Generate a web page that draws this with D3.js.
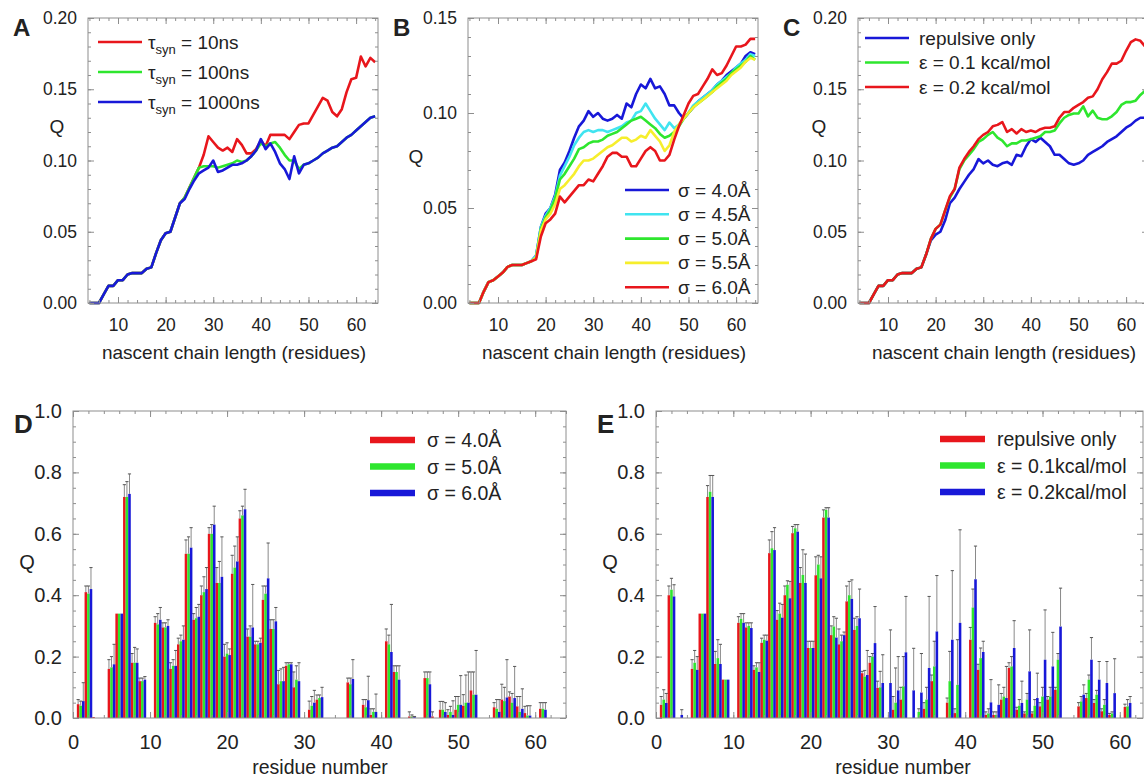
<!DOCTYPE html>
<html>
<head>
<meta charset="utf-8">
<script src="https://cdn.jsdelivr.net/npm/d3@7"></script>
<style>
body { margin: 0; background: #fff; }
text { font-family: "Liberation Sans", Arial, sans-serif; fill: #222; }
</style>
</head>
<body>
<script>
// ---- data ----
var chainLength = [4,5,6,7,8,9,10,11,12,13,14,15,16,17,18,19,20,21,22,23,24,25,26,27,28,29,30,31,32,33,34,
  35,36,37,38,39,40,41,42,43,44,45,46,47,48,49,50,51,52,53,54,55,56,57,58,59,60,61,62,63,64];

// panel A: tau_syn
var aTau10 = [0,0,0,0.006,0.012,0.012,0.016,0.016,0.02,0.021,0.021,0.021,0.024,0.025,
  0.035,0.044,0.049,0.05,0.06,0.07,0.074,0.081,0.088,0.095,0.104,0.117,
  0.113,0.109,0.107,0.109,0.106,0.115,0.111,0.105,0.105,0.108,0.114,0.11,
  0.118,0.118,0.118,0.118,0.115,0.12,0.125,0.126,0.126,0.132,0.138,0.144,
  0.142,0.134,0.131,0.136,0.148,0.157,0.158,0.173,0.166,0.172,0.169];
var aTau100 = [0,0,0,0.006,0.012,0.012,0.016,0.016,0.02,0.021,0.021,0.021,0.024,0.025,
  0.035,0.044,0.049,0.05,0.06,0.07,0.074,0.081,0.088,0.095,0.096,0.096,
  0.096,0.095,0.096,0.097,0.098,0.1,0.099,0.1,0.103,0.107,0.112,0.11,
  0.112,0.113,0.109,0.104,0.1,0.1,0.094,0.097,0.098,0.1,0.102,0.105,
  0.107,0.109,0.11,0.113,0.116,0.118,0.121,0.124,0.127,0.13,0.131];
var aTau1000 = [0,0,0,0.006,0.012,0.012,0.016,0.016,0.02,0.021,0.021,0.021,0.024,0.025,
  0.035,0.044,0.049,0.05,0.06,0.07,0.073,0.08,0.086,0.091,0.093,0.095,
  0.1,0.092,0.093,0.095,0.097,0.097,0.098,0.1,0.103,0.107,0.115,0.108,
  0.112,0.106,0.098,0.094,0.087,0.103,0.091,0.097,0.098,0.1,0.102,0.105,
  0.107,0.109,0.11,0.113,0.116,0.118,0.121,0.124,0.127,0.13,0.131];

// panel B: sigma
var bSig40 = [0,0,0,0.006,0.011,0.012,0.014,0.016,0.019,0.02,0.02,0.02,0.021,0.022,
  0.025,0.04,0.047,0.05,0.057,0.07,0.074,0.08,0.087,0.093,0.096,0.101,
  0.098,0.1,0.097,0.096,0.097,0.099,0.097,0.105,0.103,0.11,0.115,0.113,
  0.118,0.113,0.114,0.11,0.104,0.104,0.1,0.097,0.1,0.103,0.106,0.108,
  0.11,0.112,0.115,0.117,0.12,0.122,0.124,0.126,0.13,0.132,0.131];
var bSig45 = [0,0,0,0.006,0.011,0.012,0.014,0.016,0.019,0.02,0.02,0.02,0.021,0.022,
  0.025,0.04,0.046,0.05,0.056,0.067,0.072,0.077,0.083,0.087,0.09,0.091,
  0.09,0.091,0.091,0.09,0.091,0.092,0.093,0.095,0.096,0.1,0.101,0.105,
  0.101,0.097,0.094,0.091,0.095,0.092,0.094,0.097,0.1,0.104,0.106,0.108,
  0.11,0.112,0.115,0.117,0.119,0.121,0.124,0.126,0.128,0.131,0.13];
var bSig50 = [0,0,0,0.006,0.011,0.012,0.014,0.016,0.019,0.02,0.02,0.02,0.021,0.022,
  0.024,0.039,0.045,0.049,0.055,0.065,0.068,0.072,0.076,0.081,0.082,0.084,
  0.085,0.085,0.086,0.088,0.089,0.09,0.092,0.094,0.096,0.097,0.098,0.096,
  0.094,0.092,0.089,0.087,0.088,0.09,0.093,0.097,0.1,0.103,0.105,0.107,
  0.109,0.111,0.114,0.116,0.118,0.121,0.123,0.125,0.127,0.13,0.128];
var bSig55 = [0,0,0,0.006,0.011,0.012,0.014,0.016,0.019,0.02,0.02,0.02,0.021,0.022,
  0.024,0.038,0.044,0.047,0.052,0.06,0.062,0.065,0.068,0.072,0.075,0.075,
  0.076,0.078,0.08,0.082,0.083,0.085,0.087,0.087,0.085,0.086,0.088,0.087,
  0.091,0.088,0.085,0.08,0.083,0.09,0.094,0.097,0.1,0.103,0.105,0.107,
  0.109,0.111,0.113,0.115,0.117,0.12,0.122,0.124,0.127,0.129,0.128];
var bSig60 = [0,0,0,0.006,0.011,0.012,0.014,0.016,0.019,0.02,0.02,0.02,0.021,0.022,
  0.023,0.035,0.042,0.044,0.047,0.056,0.053,0.056,0.059,0.062,0.062,0.065,
  0.064,0.068,0.072,0.077,0.079,0.079,0.077,0.077,0.072,0.072,0.076,0.08,
  0.082,0.08,0.075,0.075,0.078,0.086,0.093,0.099,0.105,0.109,0.11,0.114,
  0.118,0.123,0.12,0.121,0.125,0.13,0.135,0.135,0.136,0.139,0.139];

// panel C: epsilon
var cRep = [0,0,0,0.006,0.012,0.012,0.016,0.016,0.02,0.021,0.021,0.021,0.024,0.025,
  0.034,0.044,0.048,0.05,0.058,0.07,0.074,0.08,0.085,0.09,0.094,0.101,
  0.098,0.1,0.097,0.096,0.098,0.099,0.097,0.104,0.103,0.11,0.115,0.113,
  0.116,0.113,0.11,0.104,0.104,0.101,0.098,0.097,0.098,0.1,0.104,0.106,
  0.108,0.11,0.113,0.115,0.117,0.12,0.123,0.125,0.128,0.13,0.13];
var cEps01 = [0,0,0,0.006,0.012,0.012,0.016,0.016,0.02,0.021,0.021,0.021,0.024,0.025,
  0.034,0.045,0.052,0.055,0.065,0.074,0.08,0.094,0.1,0.104,0.108,0.113,
  0.115,0.118,0.12,0.116,0.114,0.11,0.112,0.112,0.114,0.114,0.115,0.116,
  0.117,0.12,0.12,0.121,0.126,0.13,0.132,0.133,0.133,0.138,0.131,0.135,
  0.13,0.129,0.129,0.131,0.134,0.139,0.141,0.141,0.142,0.146,0.149];
var cEps02 = [0,0,0,0.006,0.012,0.012,0.016,0.016,0.02,0.021,0.021,0.021,0.024,0.025,
  0.034,0.045,0.052,0.055,0.065,0.075,0.08,0.095,0.101,0.106,0.11,0.115,
  0.118,0.12,0.124,0.125,0.127,0.12,0.122,0.119,0.122,0.12,0.121,0.12,
  0.122,0.123,0.123,0.124,0.13,0.134,0.134,0.137,0.139,0.141,0.144,0.145,
  0.15,0.157,0.162,0.168,0.168,0.17,0.177,0.183,0.185,0.184,0.18];

// panels D, E: per-residue Q with upper error bar ends
var residues = [1,2,3,4,5,6,7,8,9,10,11,12,13,14,15,16,17,18,19,20,21,22,23,24,25,26,27,28,29,30,31,
  32,33,34,35,36,37,38,39,40,41,42,43,44,45,46,47,48,49,50,51,52,53,54,55,56,57,58,59,60,61,62];

var dSig40 = [0.045,0.41,0.003,0,0.16,0.34,0.72,0.18,0.12,0, 0.31,0.295,0.16,0.24,0.535,0.32,0.4,0.6,0.44,0.2,
  0.47,0.65,0.265,0.24,0.385,0.29,0.11,0.17,0.1,0, 0.027,0.06,0,0,0,0.116,0,0.043,0.01,0,
  0.25,0.15,0,0.005,0,0.13,0.005,0.027,0.01,0.027, 0.04,0.09,0,0,0.035,0.06,0.07,0.038,0.016,0, 0.03,0];
var dSig50 = [0.04,0.405,0,0,0.165,0.34,0.72,0.18,0.12,0, 0.305,0.295,0.17,0.25,0.535,0.325,0.41,0.6,0.44,0.21,
  0.49,0.66,0.265,0.24,0.405,0.29,0.12,0.175,0.125,0, 0.04,0.065,0,0,0,0.11,0,0.035,0.02,0,
  0.24,0.15,0,0.005,0,0.13,0,0.027,0.02,0.043, 0.05,0.076,0,0,0.03,0.055,0.05,0.02,0.008,0, 0.03,0];
var dSig60 = [0.055,0.42,0,0,0.175,0.34,0.73,0.18,0.125,0, 0.32,0.3,0.17,0.255,0.555,0.33,0.42,0.63,0.46,0.205,
  0.51,0.68,0.295,0.245,0.455,0.315,0.12,0.175,0.12,0, 0.05,0.068,0,0,0,0.127,0,0.058,0.02,0,
  0.215,0.125,0,0.003,0,0.11,0,0.02,0.01,0.043, 0.05,0.076,0,0,0.02,0.067,0.065,0.03,0.008,0, 0.027,0];
var dSig40Hi = [0.06,0.43,0,0,0.19,0,0.76,0.21,0.13,0, 0.33,0.31,0.18,0.26,0.58,0.34,0.43,0.62,0.49,0.24,
  0.53,0.675,0.29,0.25,0.43,0.32,0.155,0.18,0.15,0, 0.055,0.075,0,0,0,0.13,0,0.06,0.03,0,
  0.29,0.17,0,0.02,0,0.15,0.02,0.054,0.027,0.07, 0.076,0.15,0,0,0.05,0.11,0.085,0.07,0.038,0, 0.05,0];
var dSig50Hi = [0.055,0.43,0,0,0.2,0,0.77,0.23,0.13,0, 0.34,0.31,0.19,0.27,0.59,0.36,0.46,0.63,0.51,0.245,
  0.56,0.69,0.3,0.25,0.43,0.32,0.16,0.18,0.17,0, 0.07,0.075,0,0,0,0.13,0,0.06,0.03,0,
  0.27,0.17,0,0.01,0,0.15,0,0.054,0.038,0.07, 0.14,0.15,0,0,0.06,0.1,0.08,0.07,0.04,0, 0.05,0];
var dSig60Hi = [0.115,0.49,0,0,0.24,0,0.795,0.225,0.135,0, 0.36,0.32,0.22,0.3,0.62,0.37,0.49,0.69,0.59,0.225,
  0.59,0.745,0.435,0.26,0.57,0.36,0.165,0.18,0.18,0, 0.09,0.1,0,0,0,0.19,0,0.136,0.078,0,
  0.37,0.17,0,0.005,0,0.15,0,0.05,0.056,0.138, 0.15,0.22,0,0,0.06,0.19,0.168,0.095,0.04,0, 0.05,0];

var eRep = [0.043,0.4,0,0,0.16,0.34,0.72,0.176,0.125,0, 0.31,0.295,0.157,0.245,0.537,0.32,0.4,0.602,0.44,0.228,
  0.465,0.653,0.27,0.24,0.38,0.287,0.146,0.18,0.098,0, 0.027,0.06,0,0,0.03,0.12,0,0.05,0.016,0,
  0.255,0.157,0.01,0.01,0.06,0.163,0.027,0.015,0.015,0.038, 0.06,0.092,0,0,0.038,0.065,0.049,0.022,0.01,0, 0.036,0];
var eEps01 = [0.06,0.418,0,0,0.18,0.34,0.737,0.195,0.125,0, 0.323,0.3,0.165,0.255,0.553,0.34,0.434,0.618,0.466,0.228,
  0.5,0.678,0.298,0.25,0.4,0.3,0.135,0.2,0.1,0, 0.05,0.103,0,0.02,0.06,0.168,0,0.12,0.108,0,
  0.36,0.195,0.015,0.01,0.07,0.168,0.04,0.06,0.04,0.07, 0.07,0.19,0,0,0.054,0.125,0.076,0.043,0.015,0, 0.038,0];
var eEps02 = [0.049,0.396,0.01,0,0.157,0.34,0.72,0.176,0.125,0, 0.31,0.293,0.15,0.252,0.547,0.327,0.39,0.607,0.44,0.228,
  0.455,0.653,0.262,0.27,0.388,0.325,0.14,0.244,0.114,0.114, 0.09,0.214,0.09,0.083,0.163,0.282,0,0.255,0.31,0,
  0.452,0.215,0.051,0.043,0.065,0.228,0.049,0.152,0.065,0.19, 0.168,0.298,0,0,0.076,0.19,0.125,0.114,0.081,0, 0.049,0];
var eRepHi = [0.07,0.43,0,0,0.19,0,0.757,0.217,0,0, 0.33,0.31,0.17,0.26,0.58,0.35,0.43,0.624,0.49,0.25,
  0.525,0.678,0.3,0.29,0.43,0.325,0.152,0.2,0.12,0, 0.07,0.1,0,0,0.05,0.14,0,0.065,0.03,0,
  0.295,0.175,0.02,0.02,0.08,0.18,0.035,0.02,0.02,0.05, 0.07,0.1,0,0,0.05,0.08,0.06,0.03,0.015,0, 0.045,0];
var eEps01Hi = [0.092,0.455,0,0,0.22,0,0.79,0.255,0,0, 0.34,0.31,0.18,0.27,0.607,0.374,0.447,0.63,0.548,0.25,
  0.53,0.685,0.33,0.27,0.445,0.33,0.155,0.21,0.152,0, 0.163,0.2,0,0.03,0.1,0.25,0,0.217,0.255,0,
  0.42,0.228,0.03,0.02,0.1,0.2,0.06,0.08,0.06,0.1, 0.1,0.21,0,0,0.07,0.14,0.09,0.06,0.02,0, 0.06,0];
var eEps02Hi = [0.08,0.434,0.027,0,0.2,0,0.79,0.24,0,0, 0.34,0.31,0.18,0.27,0.62,0.37,0.445,0.63,0.534,0.25,
  0.525,0.685,0.325,0.28,0.45,0.42,0.22,0.363,0.206,0.287, 0.2,0.396,0.227,0.21,0.396,0.464,0,0.48,0.613,0,
  0.56,0.25,0.125,0.108,0.168,0.317,0.12,0.287,0.146,0.352, 0.279,0.423,0,0,0.108,0.262,0.184,0.184,0.193,0, 0.07,0];

var lenTicks = [10, 20, 30, 40, 50, 60];
var resTicks = [0, 10, 20, 30, 40, 50, 60];

var RED = '#e8161c', GREEN = '#2ee62e', BLUE = '#1818d8', CYAN = '#40e4f0', YELLOW = '#f6ee2c';
var FRAME = '#8e8e8e';

var svg = d3.select('body').append('svg')
  .attr('width', 1144)
  .attr('height', 779);

// draws box + inward ticks on four sides
function drawFrame(g, x, y, o) {
  var xr = x.range(), yr = y.range();
  function ticks(axis, tr, vals, size, fmt, pad, fs) {
    var a = g.append('g').attr('transform', tr)
      .call(axis.tickValues(vals).tickSize(-size).tickPadding(pad).tickFormat(fmt));
    a.select('.domain').remove();
    a.selectAll('line').attr('stroke', FRAME);
    a.selectAll('text').attr('font-size', fs).attr('fill', '#222');
  }
  var none = function() { return ''; };
  ticks(d3.axisBottom(x), 'translate(0,' + yr[0] + ')', o.xMinor, 3, none, 0, 0);
  ticks(d3.axisTop(x), 'translate(0,' + yr[1] + ')', o.xMinor, 3, none, 0, 0);
  ticks(d3.axisLeft(y), 'translate(' + xr[0] + ',0)', o.yMinor, 3, none, 0, 0);
  ticks(d3.axisRight(y), 'translate(' + xr[1] + ',0)', o.yMinor, 3, none, 0, 0);
  ticks(d3.axisBottom(x), 'translate(0,' + yr[0] + ')', o.xMajor, 6, d3.format('d'), o.xPad, o.fs);
  ticks(d3.axisTop(x), 'translate(0,' + yr[1] + ')', o.xMajor, 6, none, 0, 0);
  ticks(d3.axisLeft(y), 'translate(' + xr[0] + ',0)', o.yMajor, 6, d3.format(o.yFmt), 11, o.fs);
  ticks(d3.axisRight(y), 'translate(' + xr[1] + ',0)', o.yMajor, 6, none, 0, 0);
  g.append('rect')
    .attr('x', xr[0]).attr('y', yr[1])
    .attr('width', xr[1] - xr[0]).attr('height', yr[0] - yr[1])
    .attr('fill', 'none').attr('stroke', FRAME).attr('stroke-width', 1);
}

function label(txt, x, y, size, opts) {
  var t = svg.append('text').attr('x', x).attr('y', y).attr('font-size', size).text(txt);
  if (opts && opts.anchor) t.attr('text-anchor', opts.anchor);
  if (opts && opts.bold) t.attr('font-weight', 'bold').attr('fill', '#000');
  return t;
}

// ---- line panels A, B, C ----
function linePanel(o) {
  var g = svg.append('g');
  var x = d3.scaleLinear().domain([3.7, 64.6]).range([o.left, o.left + 290]);
  var y = d3.scaleLinear().domain([0, o.yMax]).range([303, 18]);
  var line = d3.line()
    .x(function(d, i) { return x(chainLength[i]); })
    .y(function(d) { return y(d); });
  g.selectAll('path.series')
    .data(o.series)
    .enter().append('path')
      .attr('class', 'series')
      .attr('d', function(s) { return line(s.values); })
      .attr('fill', 'none')
      .attr('stroke', function(s) { return s.color; })
      .attr('stroke-width', 2.6)
      .attr('stroke-linejoin', 'round');
  drawFrame(g, x, y, {
    xMajor: lenTicks, xMinor: d3.range(4, 65, 2),
    yMajor: d3.range(0, o.yMax + 1e-9, 0.05), yMinor: d3.range(0, o.yMax + 1e-9, 0.01),
    yFmt: '.2f', xPad: 16, fs: 17.5
  });
  label('nascent chain length (residues)', o.left + 146, 359, 19, { anchor: 'middle' });
  label('Q', o.qx, o.qy, 19, { anchor: 'middle' });
  label(o.letter, o.left - 75, 36, 24, { bold: true });

  var lg = g.selectAll('g.leg')
    .data(o.series)
    .enter().append('g')
      .attr('class', 'leg')
      .attr('transform', function(s, i) { return 'translate(' + o.legX + ',' + (o.legY + i * o.legDy) + ')'; });
  lg.append('line')
    .attr('x1', 0).attr('x2', 44)
    .attr('stroke', function(s) { return s.color; })
    .attr('stroke-width', 2.6);
  lg.append('text')
    .attr('x', o.legText).attr('y', 6.5)
    .attr('font-size', 19)
    .each(function(s) {
      var t = d3.select(this);
      if (s.sub) {
        t.append('tspan').text(s.name);
        t.append('tspan').attr('dy', 5).attr('font-size', 13).text(s.sub);
        t.append('tspan').attr('dy', -5).text(s.rest);
      } else {
        t.text(s.name);
      }
    });
}

linePanel({
  left: 88, yMax: 0.2, letter: 'A', qx: 57, qy: 133,
  legX: 98, legY: 42, legDy: 30, legText: 50,
  series: [
    { values: aTau10, color: RED, name: '\u03c4', sub: 'syn', rest: ' = 10ns' },
    { values: aTau100, color: GREEN, name: '\u03c4', sub: 'syn', rest: ' = 100ns' },
    { values: aTau1000, color: BLUE, name: '\u03c4', sub: 'syn', rest: ' = 1000ns' }
  ]
});

linePanel({
  left: 468, yMax: 0.15, letter: 'B', qx: 416, qy: 163,
  legX: 625, legY: 190, legDy: 24.3, legText: 53,
  series: [
    { values: bSig40, color: BLUE, name: '\u03c3 = 4.0\u00c5' },
    { values: bSig45, color: CYAN, name: '\u03c3 = 4.5\u00c5' },
    { values: bSig50, color: GREEN, name: '\u03c3 = 5.0\u00c5' },
    { values: bSig55, color: YELLOW, name: '\u03c3 = 5.5\u00c5' },
    { values: bSig60, color: RED, name: '\u03c3 = 6.0\u00c5' }
  ]
});

linePanel({
  left: 858, yMax: 0.2, letter: 'C', qx: 819, qy: 133,
  legX: 865, legY: 38, legDy: 24.5, legText: 54,
  series: [
    { values: cRep, color: BLUE, name: 'repulsive only' },
    { values: cEps01, color: GREEN, name: '\u03b5 = 0.1 kcal/mol' },
    { values: cEps02, color: RED, name: '\u03b5 = 0.2 kcal/mol' }
  ]
});

// ---- bar panels D, E ----
function barPanel(o) {
  var g = svg.append('g');
  var x = d3.scaleLinear().domain([0, o.xMax]).range([o.left, o.right]);
  var y = d3.scaleLinear().domain([0, 1]).range([718, 411]);
  var sub = d3.scaleBand().domain([0, 1, 2]).range([0, x(1) - x(0)]);

  o.series.forEach(function(s, k) {
    var rows = residues.map(function(r, i) { return { r: r, v: s.values[i], hi: s.hi[i] }; });
    g.append('g').selectAll('rect')
      .data(rows.filter(function(d) { return d.v > 0; }))
      .enter().append('rect')
        .attr('x', function(d) { return x(d.r - 0.5) + sub(k); })
        .attr('width', sub.bandwidth())
        .attr('y', function(d) { return y(d.v); })
        .attr('height', function(d) { return y(0) - y(d.v); })
        .attr('fill', s.color);
    var eb = g.append('g').selectAll('g')
      .data(rows.filter(function(d) { return d.hi > d.v; }))
      .enter().append('g');
    eb.append('line')
      .attr('x1', function(d) { return x(d.r - 0.5) + sub(k) + sub.bandwidth() / 2; })
      .attr('x2', function(d) { return x(d.r - 0.5) + sub(k) + sub.bandwidth() / 2; })
      .attr('y1', function(d) { return y(d.v); })
      .attr('y2', function(d) { return y(d.hi); })
      .attr('stroke', '#8a8a8a').attr('stroke-width', 1);
    eb.append('line')
      .attr('x1', function(d) { return x(d.r - 0.5) + sub(k) - 0.3; })
      .attr('x2', function(d) { return x(d.r - 0.5) + sub(k) + sub.bandwidth() + 0.3; })
      .attr('y1', function(d) { return y(d.hi); })
      .attr('y2', function(d) { return y(d.hi); })
      .attr('stroke', '#555').attr('stroke-width', 1);
  });

  drawFrame(g, x, y, {
    xMajor: resTicks, xMinor: d3.range(0, o.xMax + 1e-9, 2),
    yMajor: d3.range(0, 1.0001, 0.2), yMinor: d3.range(0, 1.0001, 0.05),
    yFmt: '.1f', xPad: 17, fs: 20
  });
  label('residue number', o.titleX, 774, 19.5, { anchor: 'middle' });
  label('Q', o.left - 46, 569, 20, { anchor: 'middle' });
  label(o.letter, o.left - 59, 433, 26, { bold: true });

  var lg = g.selectAll('g.leg')
    .data(o.series)
    .enter().append('g')
      .attr('class', 'leg')
      .attr('transform', function(s, i) { return 'translate(' + o.legX + ',' + (o.legY + i * 26.5) + ')'; });
  lg.append('line')
    .attr('x1', 0).attr('x2', 45)
    .attr('stroke', function(s) { return s.color; })
    .attr('stroke-width', 6.5);
  lg.append('text')
    .attr('x', 57).attr('y', 7)
    .attr('font-size', 19.5)
    .text(function(s) { return s.name; });
}

barPanel({
  left: 73, right: 566, xMax: 64, letter: 'D', titleX: 320,
  legX: 370, legY: 440,
  series: [
    { values: dSig40, hi: dSig40Hi, color: RED, name: '\u03c3 = 4.0\u00c5' },
    { values: dSig50, hi: dSig50Hi, color: GREEN, name: '\u03c3 = 5.0\u00c5' },
    { values: dSig60, hi: dSig60Hi, color: BLUE, name: '\u03c3 = 6.0\u00c5' }
  ]
});

barPanel({
  left: 656, right: 1143, xMax: 63, letter: 'E', titleX: 903,
  legX: 940, legY: 439,
  series: [
    { values: eRep, hi: eRepHi, color: RED, name: 'repulsive only' },
    { values: eEps01, hi: eEps01Hi, color: GREEN, name: '\u03b5 = 0.1kcal/mol' },
    { values: eEps02, hi: eEps02Hi, color: BLUE, name: '\u03b5 = 0.2kcal/mol' }
  ]
});
</script>
</body>
</html>
